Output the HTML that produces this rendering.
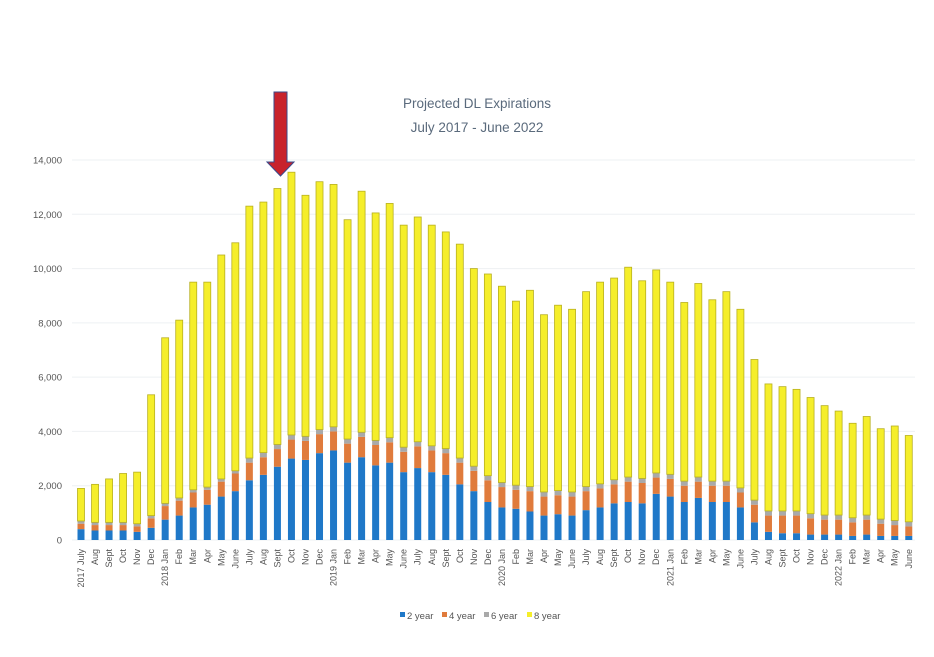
<!DOCTYPE html>
<html><head><meta charset="utf-8"><style>
html,body{margin:0;padding:0;background:#fff;width:934px;height:657px;overflow:hidden}
svg text{font-family:"Liberation Sans",sans-serif}
</style></head><body>
<svg id="s" width="934" height="657" viewBox="0 0 934 657" xmlns="http://www.w3.org/2000/svg"></svg>
<script>
var tot=[1.9,2.05,2.25,2.45,2.5,5.35,7.45,8.1,9.5,9.5,10.5,10.95,12.3,12.45,12.95,13.55,12.7,13.2,13.1,11.8,12.85,12.05,12.4,11.6,11.9,11.6,11.35,10.9,10.0,9.8,9.35,8.8,9.2,8.3,8.65,8.5,9.15,9.5,9.65,10.05,9.55,9.95,9.5,8.75,9.45,8.85,9.15,8.5,6.65,5.75,5.65,5.55,5.25,4.95,4.75,4.3,4.55,4.1,4.2,3.85];
var blue=[0.4,0.35,0.35,0.35,0.3,0.45,0.75,0.9,1.2,1.3,1.6,1.8,2.2,2.4,2.7,3.0,2.95,3.2,3.3,2.85,3.05,2.75,2.85,2.5,2.65,2.5,2.4,2.05,1.8,1.4,1.2,1.15,1.05,0.9,0.95,0.9,1.1,1.2,1.35,1.4,1.35,1.7,1.6,1.4,1.55,1.4,1.4,1.2,0.65,0.3,0.25,0.25,0.2,0.2,0.2,0.15,0.2,0.15,0.15,0.15];
var or=[0.2,0.2,0.2,0.2,0.2,0.35,0.5,0.55,0.55,0.55,0.55,0.65,0.65,0.65,0.65,0.7,0.7,0.7,0.7,0.7,0.75,0.75,0.75,0.75,0.8,0.8,0.8,0.8,0.75,0.8,0.75,0.7,0.75,0.7,0.7,0.7,0.7,0.7,0.7,0.75,0.75,0.6,0.65,0.6,0.6,0.6,0.6,0.55,0.65,0.6,0.65,0.65,0.6,0.55,0.55,0.5,0.55,0.45,0.4,0.35];
var mon=["July","Aug","Sept","Oct","Nov","Dec","Jan","Feb","Mar","Apr","May","June"];
var B=540,K=380/14,h='';
for(var g=0;g<=7;g++){var y=B-g*2*K;
 h+='<line x1="72" x2="915" y1="'+y+'" y2="'+y+'" stroke="#eef0f3" stroke-width="1"/>';
 h+='<text x="62" y="'+(y+3.5)+'" font-size="9.5" fill="#555" text-anchor="end">'+(g==0?'0':(g*2)+',000')+'</text>';}
for(var i=0;i<60;i++){var cx=81+i*14.03,x=cx-3.5,w=7;
 var gr=i<12?0.1:0.17;
 var segs=[[blue[i],'#1f78c8'],[or[i],'#e07b3c'],[gr,'#a9a9a9'],[tot[i]-blue[i]-or[i]-gr,'#f5ee2a']];
 var y=B;
 segs.forEach(function(s){var hh=s[0]*K;y-=hh;h+='<rect x="'+x+'" y="'+y+'" width="'+w+'" height="'+hh+'" fill="'+s[1]+'"/>';});
 h+='<rect x="'+x+'" y="'+y+'" width="'+w+'" height="'+(segs[3][0]*K)+'" fill="none" stroke="#b8b020" stroke-width="0.8"/>';
 var m=i%12,lab=mon[m];if(m==6)lab=(2018+Math.floor(i/12))+' '+lab;if(i==0)lab='2017 July';
 h+='<text transform="translate('+(cx+3)+',549) rotate(-90)" font-size="9" fill="#555" text-anchor="end">'+lab+'</text>';}
h+='<text x="477" y="108" font-size="13.5" fill="#5a6a7c" text-anchor="middle">Projected DL Expirations</text>';
h+='<text x="477" y="132" font-size="13.5" fill="#5a6a7c" text-anchor="middle">July 2017 - June 2022</text>';
h+='<polygon points="274,92 287,92 287,162 294,162 280.5,176 267,162 274,162" fill="#c8232c" stroke="#3a4a8a" stroke-width="1"/>';
var L=[[400,'#1f78c8','2 year'],[442,'#e07b3c','4 year'],[484,'#a9a9a9','6 year'],[527,'#f5ee2a','8 year']];
L.forEach(function(l){h+='<rect x="'+l[0]+'" y="612" width="5" height="5" fill="'+l[1]+'"/><text x="'+(l[0]+7)+'" y="619" font-size="9.5" fill="#555">'+l[2]+'</text>';});
document.getElementById('s').innerHTML=h;
</script>
</body></html>
